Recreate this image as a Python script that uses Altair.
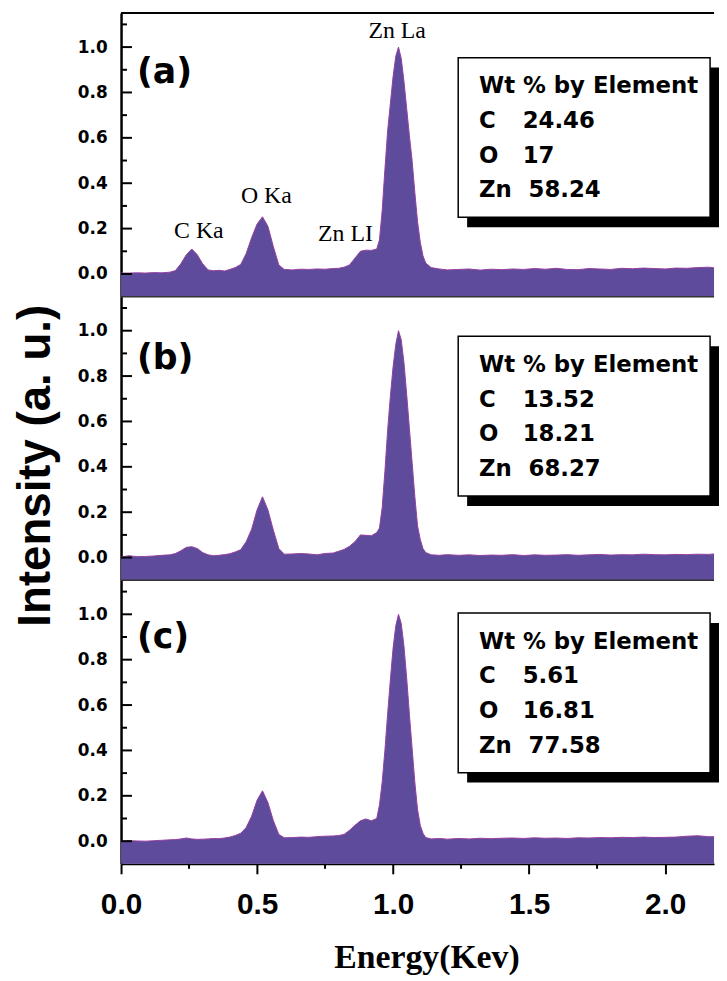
import altair as alt
import pandas as pd

# ---------------- data ----------------
energy = [0.00, 0.03, 0.06, 0.09, 0.12, 0.15, 0.18, 0.20, 0.22, 0.24,
          0.26, 0.28, 0.30, 0.32, 0.34, 0.36, 0.38, 0.40, 0.42, 0.44,
          0.46, 0.48, 0.50, 0.52, 0.54, 0.56, 0.58, 0.60, 0.63, 0.66,
          0.69, 0.72, 0.75, 0.78, 0.80, 0.82, 0.84, 0.86, 0.88, 0.90,
          0.92, 0.94, 0.95, 0.96, 0.97, 0.98, 0.99, 1.00, 1.01, 1.02,
          1.03, 1.04, 1.05, 1.06, 1.07, 1.08, 1.09, 1.10, 1.11, 1.12,
          1.14, 1.17, 1.20, 1.24, 1.28, 1.32, 1.36, 1.40, 1.44, 1.48,
          1.52, 1.56, 1.60, 1.64, 1.68, 1.72, 1.76, 1.80, 1.84, 1.88,
          1.92, 1.96, 2.00, 2.04, 2.08, 2.12, 2.16, 2.18]

intensity_a = [0.004, 0.004, 0.005, 0.004, 0.006, 0.005, 0.008, 0.015, 0.045, 0.085,
               0.110, 0.085, 0.045, 0.018, 0.014, 0.016, 0.013, 0.020, 0.028, 0.042,
               0.090, 0.160, 0.220, 0.252, 0.210, 0.120, 0.040, 0.020, 0.018, 0.021,
               0.020, 0.022, 0.021, 0.024, 0.025, 0.030, 0.040, 0.070, 0.100, 0.105,
               0.104, 0.110, 0.150, 0.280, 0.460, 0.630, 0.750, 0.870, 0.960, 1.000,
               0.950, 0.850, 0.730, 0.610, 0.500, 0.360, 0.230, 0.140, 0.080, 0.048,
               0.028, 0.022, 0.018, 0.020, 0.022, 0.017, 0.021, 0.019, 0.022, 0.020,
               0.024, 0.021, 0.025, 0.020, 0.019, 0.024, 0.022, 0.020, 0.025, 0.023,
               0.026, 0.024, 0.022, 0.026, 0.025, 0.028, 0.030, 0.027]

intensity_b = [0.003, 0.008, 0.004, 0.005, 0.007, 0.010, 0.012, 0.018, 0.030, 0.045,
               0.048, 0.040, 0.022, 0.012, 0.008, 0.010, 0.013, 0.017, 0.025, 0.035,
               0.070, 0.125, 0.210, 0.268, 0.210, 0.120, 0.040, 0.015, 0.016, 0.018,
               0.016, 0.012, 0.018, 0.020, 0.028, 0.036, 0.050, 0.070, 0.100, 0.098,
               0.096, 0.110, 0.130, 0.220, 0.380, 0.560, 0.710, 0.840, 0.940, 1.000,
               0.960, 0.860, 0.720, 0.570, 0.420, 0.270, 0.140, 0.080, 0.040, 0.022,
               0.012, 0.010, 0.013, 0.010, 0.012, 0.009, 0.011, 0.010, 0.013, 0.009,
               0.012, 0.010, 0.011, 0.013, 0.010, 0.012, 0.014, 0.011, 0.013, 0.012,
               0.015, 0.013, 0.012, 0.014, 0.013, 0.015, 0.014, 0.016]

intensity_c = [0.000, 0.002, 0.001, 0.000, 0.002, 0.004, 0.006, 0.007, 0.010, 0.014,
               0.010, 0.008, 0.009, 0.010, 0.012, 0.011, 0.014, 0.018, 0.025, 0.035,
               0.060, 0.110, 0.180, 0.222, 0.170, 0.090, 0.030, 0.015, 0.016, 0.018,
               0.017, 0.020, 0.022, 0.023, 0.025, 0.030, 0.048, 0.070, 0.090, 0.098,
               0.090, 0.100, 0.160, 0.260, 0.400, 0.560, 0.710, 0.850, 0.950, 1.000,
               0.960, 0.860, 0.720, 0.560, 0.410, 0.260, 0.140, 0.070, 0.035, 0.016,
               0.010, 0.012, 0.009, 0.012, 0.010, 0.013, 0.011, 0.013, 0.014, 0.012,
               0.015, 0.013, 0.014, 0.012, 0.015, 0.014, 0.016, 0.015, 0.017, 0.016,
               0.018, 0.016, 0.017, 0.018, 0.022, 0.024, 0.020, 0.020]

panel_tags = ["(a)", "(b)", "(c)"]
wt_elements = ["C", "O", "Zn"]
wt_a = ["24.46", "17", "58.24"]
wt_b = ["13.52", "18.21", "68.27"]
wt_c = ["5.61", "16.81", "77.58"]
peak_names = ["C Ka", "O Ka", "Zn LI", "Zn La"]

y_major = [0.0, 0.2, 0.4, 0.6, 0.8, 1.0]
y_minor = [0.1, 0.3, 0.5, 0.7, 0.9, 1.1]
x_major = [0.0, 0.5, 1.0, 1.5, 2.0]
x_minor = [0.25, 0.75, 1.25, 1.75]

# ---------------- layout / style ----------------
W, H = 598, 286
XDOM = [0, 2.18]
YDOM = [-0.1, 1.15]
FILL = "#5e4b9c"
EDGE = "#9440a0"
one = pd.DataFrame({"k": [0]})

xscale = alt.Scale(domain=XDOM, nice=False, zero=False)
yscale = alt.Scale(domain=YDOM, nice=False, zero=False)


def panel(vals, tag, wts, box_top, tag_y, bottom, title, peaks):
    df = pd.DataFrame({"E": energy, "I": vals})
    if bottom:
        xaxis = alt.Axis(values=x_major, format=".1f", tickSize=10, tickWidth=2,
                         tickColor="black", domainColor="black", domainWidth=2,
                         labelFont="Liberation Sans", labelFontWeight="bold",
                         labelFontSize=30, labelColor="black", labelPadding=16,
                         labelFlush=False, grid=False,
                         title="Energy(Kev)", titleFont="Liberation Serif",
                         titleFontWeight="bold", titleFontSize=34, titleColor="black",
                         titleX=308, titleY=105, titleAlign="center",
                         titleBaseline="alphabetic")
    else:
        xaxis = None
    yargs = dict(values=y_major, format=".1f", tickSize=0, labelFont="DejaVu Sans",
                 labelFontWeight="bold", labelFontSize=17, labelColor="black",
                 labelPadding=14, domainColor="black", domainWidth=2.5, grid=False)
    if title:
        yaxis = alt.Axis(title="Intensity (a. u.)", titleFont="Liberation Sans",
                         titleFontWeight="bold", titleFontSize=46, titleColor="black",
                         titleAngle=270, titleX=-72, titleY=170, titleAlign="center",
                         titleBaseline="alphabetic", **yargs)
    else:
        yaxis = alt.Axis(title=None, **yargs)

    def X(field=None, datum=None):
        if datum is not None:
            return alt.X(datum=datum, scale=xscale, axis=xaxis)
        return alt.X(field, scale=xscale, axis=xaxis)

    def Y(field=None, datum=None):
        if datum is not None:
            return alt.Y(datum=datum, scale=yscale, axis=yaxis)
        return alt.Y(field, scale=yscale, axis=yaxis)

    area = alt.Chart(df).mark_area(
        color=FILL, opacity=1, line={"color": EDGE, "strokeWidth": 1}
    ).encode(
        x=X("E:Q"),
        y=Y("I:Q"),
        y2=alt.datum(-0.1),
    )
    layers = [area]

    ymaj = alt.Chart(pd.DataFrame({"I": y_major})).mark_rule(
        color="black", strokeWidth=2).encode(
        y=Y("I:Q"), x=alt.value(0), x2=alt.value(11))
    ymin = alt.Chart(pd.DataFrame({"I": y_minor})).mark_rule(
        color="black", strokeWidth=2).encode(
        y=Y("I:Q"), x=alt.value(0), x2=alt.value(6))
    layers += [ymaj, ymin]

    if tag == "(a)":
        layers.append(alt.Chart(one).mark_rule(color="black", strokeWidth=2).encode(
            x=alt.value(0), x2=alt.value(W), y=alt.value(0)))
    if not bottom:
        layers.append(alt.Chart(one).mark_rule(color="#333333", strokeWidth=1.5).encode(
            x=alt.value(0), x2=alt.value(W), y=alt.value(H)))
    else:
        layers.append(alt.Chart(pd.DataFrame({"E": x_minor})).mark_rule(
            color="black", strokeWidth=2).encode(
            x=X("E:Q"), y=alt.value(H), y2=alt.value(H + 5)))

    # panel tag
    layers.append(alt.Chart(one).mark_text(
        font="DejaVu Sans", fontWeight="bold", fontSize=35, color="black",
        align="left", baseline="middle").encode(
        x=alt.value(16), y=alt.value(tag_y), text=alt.value(tag)))

    # peak labels
    for name, ex, iy in peaks:
        layers.append(alt.Chart(one).mark_text(
            font="Liberation Serif", fontSize=24, color="black",
            align="center", baseline="alphabetic").encode(
            x=X(datum=ex), y=Y(datum=iy), text=alt.value(name)))

    # weight-percent box
    t = box_top
    layers.append(alt.Chart(one).mark_rect(color="black").encode(
        x=alt.value(349), x2=alt.value(603), y=alt.value(t + 10), y2=alt.value(t + 171)))
    layers.append(alt.Chart(one).mark_rect(fill="white", stroke="black", strokeWidth=1.5).encode(
        x=alt.value(340), x2=alt.value(594), y=alt.value(t), y2=alt.value(t + 161)))
    tstyle = dict(font="DejaVu Sans", fontWeight="bold", fontSize=23, color="black",
                  align="left", baseline="middle")
    layers.append(alt.Chart(one).mark_text(**tstyle).encode(
        x=alt.value(361), y=alt.value(t + 29), text=alt.value("Wt % by Element")))
    for i, (el, val) in enumerate(zip(wt_elements, wts)):
        yy = t + 64 + 35 * i
        layers.append(alt.Chart(one).mark_text(**tstyle).encode(
            x=alt.value(361), y=alt.value(yy), text=alt.value(el)))
        layers.append(alt.Chart(one).mark_text(**tstyle).encode(
            x=alt.value(411 if el == "Zn" else 405), y=alt.value(yy), text=alt.value(val)))

    return alt.layer(*layers).properties(width=W, height=H)


peaks_a = [(peak_names[0], 0.286, 0.157), (peak_names[1], 0.534, 0.314),
           (peak_names[2], 0.825, 0.144), (peak_names[3], 1.015, 1.039)]

pa = panel(intensity_a, panel_tags[0], wt_a, 45, 60, False, False, peaks_a)
pb = panel(intensity_b, panel_tags[1], wt_b, 40, 62, False, True, [])
pc = panel(intensity_c, panel_tags[2], wt_c, 33, 57, True, False, [])

chart = alt.vconcat(pa, pb, pc, spacing=0, bounds="flush").configure_view(
    strokeWidth=0
).properties(
    padding={"left": 4, "top": 0, "right": 0, "bottom": 0},
    background="white",
)

chart.save("out.html", embed_options={"renderer": "svg", "actions": False})
